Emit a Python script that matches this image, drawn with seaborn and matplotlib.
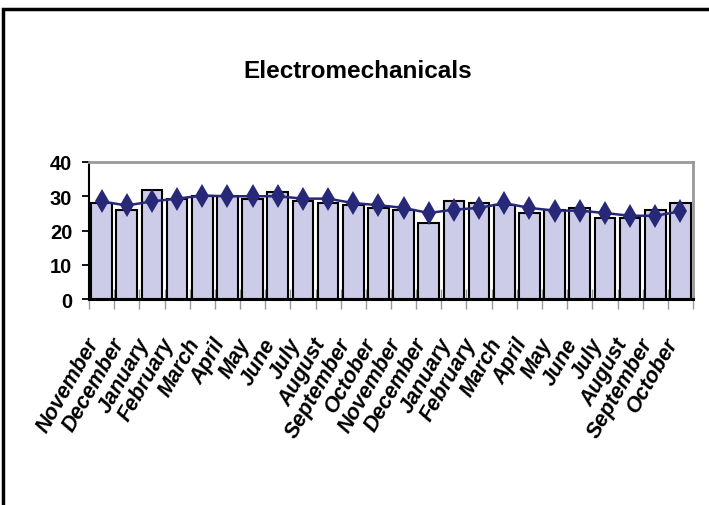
import matplotlib
matplotlib.use("Agg")
import matplotlib.pyplot as plt
from matplotlib import font_manager
from matplotlib.patches import Rectangle
from matplotlib.ticker import FixedLocator
import matplotlib.transforms as mtransforms
import numpy as np
import pandas as pd
import seaborn as sns

# Monthly values, November through October of the following year (two years)
months = ["November", "December", "January", "February", "March", "April",
          "May", "June", "July", "August", "September", "October",
          "November", "December", "January", "February", "March", "April",
          "May", "June", "July", "August", "September", "October"]
monthly = [28.0, 25.9, 31.7, 29.3, 30.2, 30.2, 29.3, 31.1, 28.7, 27.9, 27.3, 26.5,
           25.9, 22.3, 28.7, 28.0, 27.4, 25.2, 25.9, 26.6, 23.6, 23.6, 25.9, 28.0]
trend = [28.5, 27.3, 28.5, 29.3, 30.2, 30.0, 30.0, 30.0, 29.3, 29.3, 28.0, 27.4,
         26.6, 25.1, 26.1, 26.6, 28.0, 26.6, 25.8, 25.8, 25.1, 24.3, 24.3, 25.6]
y_ticks = [0, 10, 20, 30, 40]

sns.set_theme(style="white")

installed = {f.name for f in font_manager.fontManager.ttflist}
narrow = "Liberation Sans Narrow" if "Liberation Sans Narrow" in installed else "Liberation Sans"
plt.rcParams["font.family"] = ["Liberation Sans", "DejaVu Sans"]

df = pd.DataFrame({"pos": np.arange(len(months)), "value": monthly, "trend": trend})

W, H = 709, 506
fig = plt.figure(figsize=(W / 100, H / 100), dpi=100)
fig.patch.set_facecolor("white")

# plot area
x0, x1, ytop, ybot = 89, 693, 163, 300
ax = fig.add_axes([x0 / W, 1 - ybot / H, (x1 - x0) / W, (ybot - ytop) / H])
ax.set_facecolor("white")

sns.barplot(data=df, x="pos", y="value", ax=ax, color="#CCCCE8",
            edgecolor="black", linewidth=1.5, width=0.82, saturation=1)
sns.lineplot(data=df, x="pos", y="trend", ax=ax, color="#282878",
             linewidth=1.8, marker="d", markersize=12, markeredgewidth=0,
             markerfacecolor="#282878", zorder=5)

ax.set_xlim(-0.5, len(months) - 0.5)
ax.set_ylim(0, 40)
ax.set_xlabel("")
ax.set_ylabel("")

# y axis
ax.yaxis.set_major_locator(FixedLocator(y_ticks))
ax.set_yticklabels([str(t) for t in y_ticks], fontfamily=narrow,
                   fontweight="bold", fontsize=14.5, color="black")
ax.tick_params(axis="y", which="major", direction="out", length=5,
               width=1.3, color="black", pad=7, left=True)

# x axis: category labels at bar centres, tick marks at category boundaries
ax.set_xticks(np.arange(len(months)))
ax.set_xticklabels(months, rotation=60, ha="right", va="center",
                   rotation_mode="anchor", fontweight="bold",
                   fontstyle="italic", fontsize=15.5, color="black")
ax.tick_params(axis="x", which="major", length=0, pad=29, bottom=True)
ax.xaxis.set_minor_locator(FixedLocator(np.arange(-0.5, len(months), 1.0)))
ax.tick_params(axis="x", which="minor", direction="inout", length=14,
               width=1.0, color="#999999", bottom=True)
shift = mtransforms.ScaledTranslation(-7 / 100, 0, fig.dpi_scale_trans)
for lab in ax.get_xticklabels():
    lab.set_transform(lab.get_transform() + shift)

for side in ["left", "bottom"]:
    ax.spines[side].set_color("black")
ax.spines["left"].set_linewidth(1.5)
ax.spines["bottom"].set_linewidth(2.2)
for side in ["top", "right"]:
    ax.spines[side].set_visible(True)
    ax.spines[side].set_color("#999999")
    ax.spines[side].set_linewidth(2)
ax.grid(False)

fig.text(358 / W, 1 - 71 / H, "Electromechanicals", ha="center", va="center",
         fontfamily=narrow, fontweight="bold", fontsize=17.5, color="black")

# chart-area frame
fig.patches.append(Rectangle((3 / W, -0.2), 1.5, 1.2 - 10 / H,
                             transform=fig.transFigure, fill=False,
                             edgecolor="black", linewidth=2.5, clip_on=False))

fig.savefig("out.png", dpi=100)
